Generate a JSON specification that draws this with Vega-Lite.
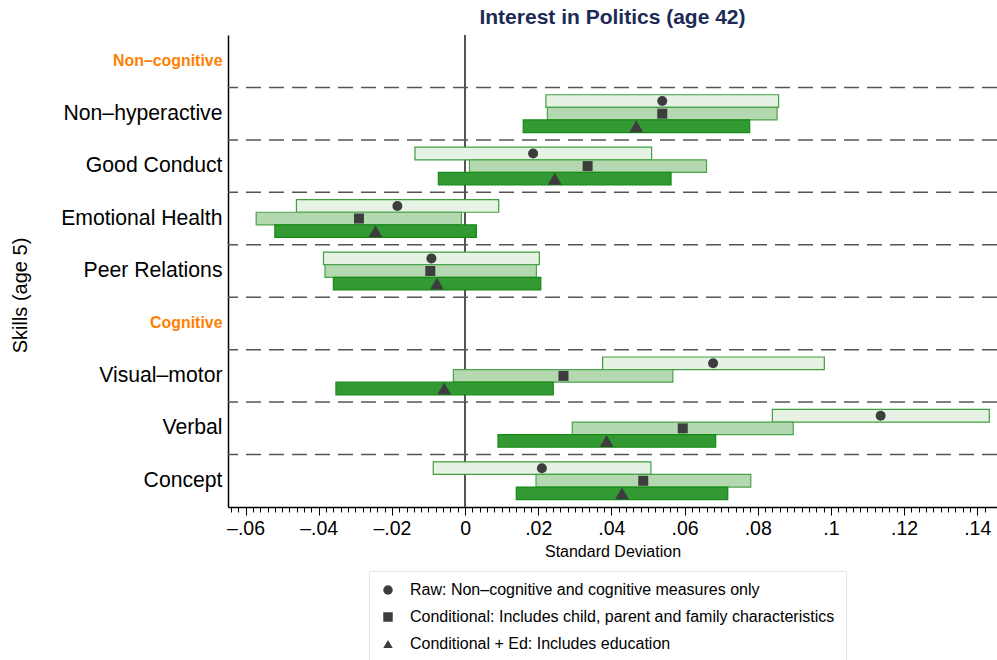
{
  "$schema": "https://vega.github.io/schema/vega-lite/v6.json",
  "width": 769,
  "height": 472,
  "autosize": {"type": "none"},
  "padding": {"left": 228, "top": 35, "right": 0, "bottom": 153},
  "background": "white",
  "title": {"text": "Interest in Politics (age 42)", "fontSize": 21, "fontWeight": "bold", "color": "#1c2b55", "font": "Liberation Sans", "anchor": "middle", "offset": 6},
  "config": {
    "view": {"stroke": null},
    "font": "Liberation Sans"
  },
  "datasets": {
    "estimates": [
      {"skill": "Non–hyperactive", "model": "Raw: Non–cognitive and cognitive measures only", "est": 0.0539, "lo": 0.0221, "hi": 0.0857},
      {"skill": "Non–hyperactive", "model": "Conditional: Includes child, parent and family characteristics", "est": 0.0539, "lo": 0.0225, "hi": 0.0853},
      {"skill": "Non–hyperactive", "model": "Conditional + Ed: Includes education", "est": 0.0468, "lo": 0.0159, "hi": 0.0778},
      {"skill": "Good Conduct", "model": "Raw: Non–cognitive and cognitive measures only", "est": 0.0186, "lo": -0.0137, "hi": 0.0510},
      {"skill": "Good Conduct", "model": "Conditional: Includes child, parent and family characteristics", "est": 0.0335, "lo": 0.0012, "hi": 0.0660},
      {"skill": "Good Conduct", "model": "Conditional + Ed: Includes education", "est": 0.0245, "lo": -0.0073, "hi": 0.0563},
      {"skill": "Emotional Health", "model": "Raw: Non–cognitive and cognitive measures only", "est": -0.0185, "lo": -0.0461, "hi": 0.0092},
      {"skill": "Emotional Health", "model": "Conditional: Includes child, parent and family characteristics", "est": -0.0290, "lo": -0.0571, "hi": -0.0010},
      {"skill": "Emotional Health", "model": "Conditional + Ed: Includes education", "est": -0.0245, "lo": -0.0520, "hi": 0.0031},
      {"skill": "Peer Relations", "model": "Raw: Non–cognitive and cognitive measures only", "est": -0.0092, "lo": -0.0387, "hi": 0.0203},
      {"skill": "Peer Relations", "model": "Conditional: Includes child, parent and family characteristics", "est": -0.0095, "lo": -0.0383, "hi": 0.0195},
      {"skill": "Peer Relations", "model": "Conditional + Ed: Includes education", "est": -0.0077, "lo": -0.0360, "hi": 0.0207},
      {"skill": "Visual–motor", "model": "Raw: Non–cognitive and cognitive measures only", "est": 0.0678, "lo": 0.0376, "hi": 0.0982},
      {"skill": "Visual–motor", "model": "Conditional: Includes child, parent and family characteristics", "est": 0.0269, "lo": -0.0032, "hi": 0.0568},
      {"skill": "Visual–motor", "model": "Conditional + Ed: Includes education", "est": -0.0057, "lo": -0.0353, "hi": 0.0241},
      {"skill": "Verbal", "model": "Raw: Non–cognitive and cognitive measures only", "est": 0.1136, "lo": 0.0840, "hi": 0.1433},
      {"skill": "Verbal", "model": "Conditional: Includes child, parent and family characteristics", "est": 0.0595, "lo": 0.0293, "hi": 0.0897},
      {"skill": "Verbal", "model": "Conditional + Ed: Includes education", "est": 0.0387, "lo": 0.0090, "hi": 0.0685},
      {"skill": "Concept", "model": "Raw: Non–cognitive and cognitive measures only", "est": 0.0210, "lo": -0.0087, "hi": 0.0508},
      {"skill": "Concept", "model": "Conditional: Includes child, parent and family characteristics", "est": 0.0487, "lo": 0.0194, "hi": 0.0781},
      {"skill": "Concept", "model": "Conditional + Ed: Includes education", "est": 0.0429, "lo": 0.0140, "hi": 0.0718}
    ],
    "rows": [
      {"skill": "Non–cognitive"},
      {"skill": "Non–hyperactive"},
      {"skill": "Good Conduct"},
      {"skill": "Emotional Health"},
      {"skill": "Peer Relations"},
      {"skill": "Cognitive"},
      {"skill": "Visual–motor"},
      {"skill": "Verbal"}
    ]
  },
  "layer": [
    {
      "data": {"name": "rows"},
      "mark": {"type": "rule", "color": "#555555", "strokeWidth": 1.5, "strokeDash": [15, 8]},
      "encoding": {
        "y": {"field": "skill", "type": "nominal", "bandPosition": 1,
              "scale": {"domain": ["Non–cognitive", "Non–hyperactive", "Good Conduct", "Emotional Health", "Peer Relations", "Cognitive", "Visual–motor", "Verbal", "Concept"], "paddingInner": 0, "paddingOuter": 0}}
      }
    },
    {
      "data": {"name": "rows"},
      "mark": {"type": "rule", "color": "#555555", "strokeWidth": 1.3},
      "encoding": {"x": {"datum": 0, "type": "quantitative"}}
    },
    {
      "data": {"name": "estimates"},
      "mark": {"type": "bar", "strokeWidth": 1.2},
      "encoding": {
        "y": {"field": "skill", "type": "nominal",
              "scale": {"domain": ["Non–cognitive", "Non–hyperactive", "Good Conduct", "Emotional Health", "Peer Relations", "Cognitive", "Visual–motor", "Verbal", "Concept"], "paddingInner": 0, "paddingOuter": 0},
              "axis": {
                "title": "Skills (age 5)", "titleFont": "Liberation Sans", "titleFontSize": 20, "titleFontWeight": "normal", "titleColor": "black", "titlePadding": 30, "titleY": 260,
                "ticks": false, "domainColor": "black", "domainWidth": 1.5, "labelPadding": 6, "labelLimit": 400,
                "labelFont": "Liberation Sans",
                "labelColor": {"condition": {"test": "datum.value == 'Non–cognitive' || datum.value == 'Cognitive'", "value": "#ff8000"}, "value": "black"},
                "labelFontSize": {"condition": {"test": "datum.value == 'Non–cognitive' || datum.value == 'Cognitive'", "value": 15.9}, "value": 21.2},
                "labelFontWeight": {"condition": {"test": "datum.value == 'Non–cognitive' || datum.value == 'Cognitive'", "value": "bold"}, "value": "normal"}
              }},
        "yOffset": {"field": "model", "type": "nominal",
                    "scale": {"domain": ["Raw: Non–cognitive and cognitive measures only", "Conditional: Includes child, parent and family characteristics", "Conditional + Ed: Includes education"], "paddingInner": 0, "paddingOuter": 0.58}},
        "x": {"field": "lo", "type": "quantitative",
              "scale": {"domain": [-0.0648, 0.1454], "nice": false, "zero": false},
              "axis": {
                "values": [-0.064,-0.062,-0.06,-0.058,-0.056,-0.054,-0.052,-0.05,-0.048,-0.046,-0.044,-0.042,-0.04,-0.038,-0.036,-0.034,-0.032,-0.03,-0.028,-0.026,-0.024,-0.022,-0.02,-0.018,-0.016,-0.014,-0.012,-0.01,-0.008,-0.006,-0.004,-0.002,0,0.002,0.004,0.006,0.008,0.01,0.012,0.014,0.016,0.018,0.02,0.022,0.024,0.026,0.028,0.03,0.032,0.034,0.036,0.038,0.04,0.042,0.044,0.046,0.048,0.05,0.052,0.054,0.056,0.058,0.06,0.062,0.064,0.066,0.068,0.07,0.072,0.074,0.076,0.078,0.08,0.082,0.084,0.086,0.088,0.09,0.092,0.094,0.096,0.098,0.1,0.102,0.104,0.106,0.108,0.11,0.112,0.114,0.116,0.118,0.12,0.122,0.124,0.126,0.128,0.13,0.132,0.134,0.136,0.138,0.14,0.142],
                "tickCount": 1000,
                "labelExpr": "abs(datum.value*50 - round(datum.value*50)) > 0.01 ? '' : (abs(datum.value) < 0.000001 ? '0' : replace(replace(replace(format(datum.value, '.2~f'), '0.', '.'), '−', '–'), '-', '–'))",
                "tickSize": {"condition": {"test": "abs(datum.value*50 - round(datum.value*50)) < 0.01", "value": 8}, "value": 5},
                "tickColor": "black", "tickWidth": 1, "domainColor": "black", "domainWidth": 1.5,
                "labelFont": "Liberation Sans", "labelFontSize": 19.5, "labelColor": "black", "labelPadding": 4,
                "labelOverlap": false, "labelFlush": false, "labelBound": false, "grid": false,
                "title": "Standard Deviation", "titleFont": "Liberation Sans", "titleFontSize": 16, "titleFontWeight": "normal", "titleColor": "black", "titlePadding": 6
              }},
        "x2": {"field": "hi"},
        "fill": {"field": "model", "type": "nominal", "legend": null,
                 "scale": {"domain": ["Conditional + Ed: Includes education", "Conditional: Includes child, parent and family characteristics", "Raw: Non–cognitive and cognitive measures only"], "range": ["#339933", "#b4d9b1", "#e6f2e4"]}},
        "stroke": {"field": "model", "type": "nominal", "legend": null,
                   "scale": {"domain": ["Conditional: Includes child, parent and family characteristics", "Conditional + Ed: Includes education", "Raw: Non–cognitive and cognitive measures only"], "range": ["#4aa44a", "#178a17", "#3f9f3f"]}}
      }
    },
    {
      "data": {"name": "estimates"},
      "transform": [{"filter": "datum.model != 'Conditional + Ed: Includes education'"}],
      "mark": {"type": "point", "filled": true, "color": "#3d3d3d", "opacity": 1, "size": 100},
      "encoding": {
        "y": {"field": "skill", "type": "nominal",
              "scale": {"domain": ["Non–cognitive", "Non–hyperactive", "Good Conduct", "Emotional Health", "Peer Relations", "Cognitive", "Visual–motor", "Verbal", "Concept"], "paddingInner": 0, "paddingOuter": 0}},
        "yOffset": {"field": "model", "type": "nominal",
                    "scale": {"domain": ["Raw: Non–cognitive and cognitive measures only", "Conditional: Includes child, parent and family characteristics", "Conditional + Ed: Includes education"], "paddingInner": 0, "paddingOuter": 0.58}},
        "x": {"field": "est", "type": "quantitative"},
        "shape": {"field": "model", "type": "nominal",
                  "scale": {"domain": ["Raw: Non–cognitive and cognitive measures only", "Conditional: Includes child, parent and family characteristics", "Conditional + Ed: Includes education"], "range": ["circle", "square", "triangle-up"]},
                  "legend": {"title": null, "orient": "none", "legendX": 141, "legendY": 536, "direction": "vertical",
                    "padding": 11, "strokeColor": "#dde6ee", "fillColor": "white",
                    "labelFont": "Liberation Sans", "labelFontSize": 16, "labelColor": "black",
                    "rowPadding": 11, "labelOffset": 14, "labelLimit": 600, "symbolSize": 90, "symbolFillColor": "#3d3d3d", "symbolStrokeWidth": 0}}
      }
    },
    {
      "data": {"name": "estimates"},
      "transform": [{"filter": "datum.model == 'Conditional + Ed: Includes education'"}],
      "mark": {"type": "point", "filled": true, "color": "#3d3d3d", "opacity": 1, "size": 190},
      "encoding": {
        "y": {"field": "skill", "type": "nominal",
              "scale": {"domain": ["Non–cognitive", "Non–hyperactive", "Good Conduct", "Emotional Health", "Peer Relations", "Cognitive", "Visual–motor", "Verbal", "Concept"], "paddingInner": 0, "paddingOuter": 0}},
        "yOffset": {"field": "model", "type": "nominal",
                    "scale": {"domain": ["Raw: Non–cognitive and cognitive measures only", "Conditional: Includes child, parent and family characteristics", "Conditional + Ed: Includes education"], "paddingInner": 0, "paddingOuter": 0.58}},
        "x": {"field": "est", "type": "quantitative"},
        "shape": {"field": "model", "type": "nominal",
                  "scale": {"domain": ["Raw: Non–cognitive and cognitive measures only", "Conditional: Includes child, parent and family characteristics", "Conditional + Ed: Includes education"], "range": ["circle", "square", "triangle-up"]},
                  "legend": {"title": null, "orient": "none", "legendX": 141, "legendY": 536, "direction": "vertical",
                    "padding": 11, "strokeColor": "#dde6ee", "fillColor": "white",
                    "labelFont": "Liberation Sans", "labelFontSize": 16, "labelColor": "black",
                    "rowPadding": 11, "labelOffset": 14, "labelLimit": 600, "symbolSize": 90, "symbolFillColor": "#3d3d3d", "symbolStrokeWidth": 0}}
      }
    }
  ]
}
